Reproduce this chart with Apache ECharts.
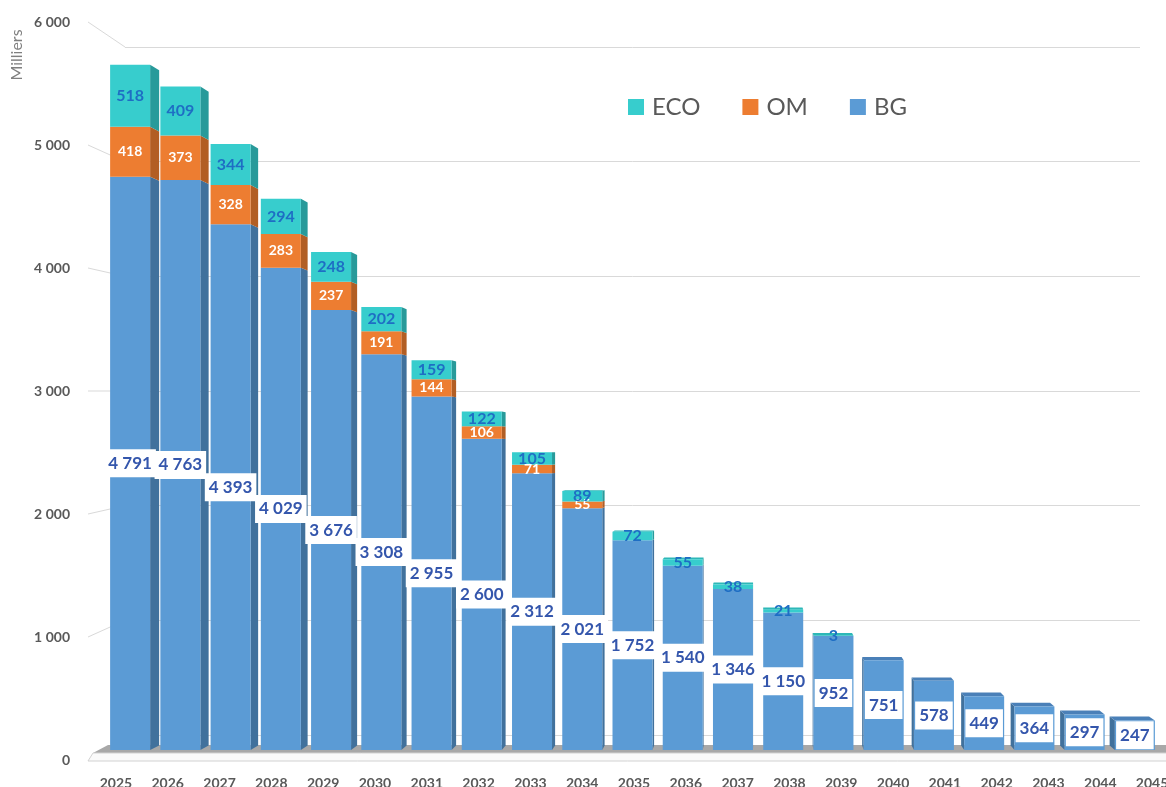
<!DOCTYPE html>
<html><head><meta charset="utf-8">
<script src="https://cdn.jsdelivr.net/npm/echarts@6/dist/echarts.min.js"></script>
<style>html,body{margin:0;padding:0;background:#fff}#c{width:1166px;height:787px}</style>
</head><body><div id="c"></div>
<script>
// ---- data ----
const years = ['2025','2026','2027','2028','2029','2030','2031','2032','2033','2034','2035','2036','2037','2038','2039','2040','2041','2042','2043','2044','2045'];
const bgValues  = [4791,4763,4393,4029,3676,3308,2955,2600,2312,2021,1752,1540,1346,1150,952,751,578,449,364,297,247];
const omValues  = [418,373,328,283,237,191,144,106,71,55,0,0,0,0,0,0,0,0,0,0,0];
const ecoValues = [518,409,344,294,248,202,159,122,105,89,72,55,38,21,3,0,0,0,0,0,0];
const yTicks = [0,1000,2000,3000,4000,5000,6000];
const seriesNames = ['BG','OM','ECO'];
const legendOrder = ['ECO','OM','BG'];
const axisTitle = 'Milliers';

// ---- style ----
const FONT = 'Lato, "Open Sans", sans-serif';
const frontCols = ['#5B9BD5','#ED7D31','#37CDCD'];
const sideCols  = ['#41719C','#B25E24','#289A9A'];
const topCols   = ['#4A80B8','#C96C2C','#2DB8B8'];
const BAR_W = 40;
const VP = [760, 450];   // perspective vanishing point
const DEPTH = 0.0148;    // depth factor
const fmt = n => String(n).replace(/\B(?=(\d{3})+(?!\d))/g, ' ');
const fmtNZ = p => p.value > 0 ? fmt(p.value) : '';

const chart = echarts.init(document.getElementById('c'), null, {renderer: 'canvas'});

function proj(x, y) { return [x + DEPTH * (VP[0] - x), y + DEPTH * (VP[1] - y)]; }

function render3D(params, api) {
  const i = api.value(0);
  const vals = [api.value(1), api.value(2), api.value(3)];
  const cx = api.coord([i, 0])[0];
  const xl = cx - BAR_W / 2, xr = cx + BAR_W / 2;
  let ex = null;
  if (xr < VP[0]) ex = xr; else if (xl > VP[0]) ex = xl;
  const children = [];
  let acc = 0, last = 0;
  for (let k = 0; k < 3; k++) {
    if (vals[k] <= 0) continue;
    const y1 = api.coord([i, acc])[1];
    acc += vals[k];
    const y2 = api.coord([i, acc])[1];
    last = k;
    if (ex !== null) {
      children.push({type: 'polygon', shape: {points: [[ex, y1], [ex, y2], proj(ex, y2), proj(ex, y1)]},
        style: {fill: sideCols[k]}});
    }
  }
  const ty = api.coord([i, acc])[1];
  if (ty > VP[1]) {
    children.push({type: 'polygon', shape: {points: [[xl, ty], [xr, ty], proj(xr, ty), proj(xl, ty)]},
      style: {fill: topCols[last]}});
  }
  return {type: 'group', children};
}

function renderFloor(params, api) {
  const cs = params.coordSys;
  const y0 = api.coord([0, 0])[1];
  const R = cs.x + cs.width + 10;
  return {type: 'group', children: [
    {type: 'polygon', shape: {points: [[cs.x - 12, y0 + 3], [R, y0 + 3], [R, y0 - 5], [cs.x + 3, y0 - 5]]},
      style: {fill: '#A8A8A8'}},
    {type: 'polygon', shape: {points: [[cs.x - 17, y0 + 11], [R, y0 + 11], [R, y0 + 3], [cs.x - 12, y0 + 3]]},
      style: {fill: '#FAFAFA', stroke: '#D2D2D2', lineWidth: 1}}
  ]};
}

const labelBase = {show: true, position: 'inside', fontFamily: FONT, fontWeight: 'bold'};

const option = {
  animation: false,
  backgroundColor: '#fff',
  textStyle: {fontFamily: FONT},
  legend: {
    data: legendOrder, left: 623, top: 90, icon: 'rect', itemWidth: 16, itemHeight: 16, itemGap: 42,
    textStyle: {fontSize: 24, color: '#595959', fontFamily: FONT, padding: [0, 0, 0, 3]},
    selectedMode: false
  },
  grid: [
    {left: 105, right: 6, top: 32, bottom: 37, outerBoundsMode: 'none', containLabel: false},
    {left: 125, right: 26, top: 47, bottom: 52, outerBoundsMode: 'none', containLabel: false},
    {left: 90, right: -12, top: 22, bottom: 27, outerBoundsMode: 'none', containLabel: false}
  ],
  xAxis: [
    {type: 'category', gridIndex: 0, data: years, show: false},
    {type: 'value', gridIndex: 1, min: 0, max: 1, show: false},
    {type: 'category', gridIndex: 2, data: years, axisLine: {show: false}, axisTick: {show: false},
      axisLabel: {fontSize: 14, fontWeight: 'bold', color: '#595959', margin: 16, fontFamily: FONT}}
  ],
  yAxis: [
    {type: 'value', gridIndex: 0, min: 0, max: 6000, show: false},
    {type: 'value', gridIndex: 1, min: 0, max: 6000, interval: 1000, axisLabel: {show: false},
      axisLine: {show: false}, axisTick: {show: false}, splitLine: {lineStyle: {color: '#D9D9D9', width: 1}}},
    {type: 'value', gridIndex: 2, min: 0, max: 6000, interval: 1000, axisLine: {show: false}, axisTick: {show: false},
      splitLine: {show: false},
      axisLabel: {fontSize: 14, fontWeight: 'bold', color: '#595959', margin: 20, fontFamily: FONT, formatter: v => fmt(v)}}
  ],
  series: [
    {type: 'custom', name: 'floor', xAxisIndex: 0, yAxisIndex: 0, data: [[0, 0]], renderItem: renderFloor, z: 0, silent: true},
    {type: 'custom', name: 'faces', xAxisIndex: 0, yAxisIndex: 0, z: 1, silent: true,
      data: years.map((y, i) => [i, bgValues[i], omValues[i], ecoValues[i]]), renderItem: render3D},
    {type: 'bar', name: seriesNames[0], xAxisIndex: 0, yAxisIndex: 0, stack: 'tot', barWidth: BAR_W, z: 2,
      data: bgValues, itemStyle: {color: frontCols[0]},
      label: Object.assign({}, labelBase, {formatter: fmtNZ, fontSize: 17, color: '#3456AC', backgroundColor: '#fff', padding: [6, 4, 5, 4]})},
    {type: 'bar', name: seriesNames[1], xAxisIndex: 0, yAxisIndex: 0, stack: 'tot', barWidth: BAR_W, z: 2,
      data: omValues, itemStyle: {color: frontCols[1]},
      label: Object.assign({}, labelBase, {formatter: fmtNZ, fontSize: 14, color: '#fff'})},
    {type: 'bar', name: seriesNames[2], xAxisIndex: 0, yAxisIndex: 0, stack: 'tot', barWidth: BAR_W, z: 2,
      data: ecoValues, itemStyle: {color: frontCols[2]},
      label: Object.assign({}, labelBase, {formatter: fmtNZ, fontSize: 16, color: '#1E6EC4'})}
  ]
};
chart.setOption(option);

// connectors from front tick labels to the back wall, plus axis title
const graphics = [{
  type: 'text', id: 'ytitle', x: 17, y: 55, rotation: Math.PI / 2,
  style: {text: axisTitle, fontSize: 16, fill: '#7F7F7F', fontFamily: FONT, align: 'center', verticalAlign: 'middle'}
}];
yTicks.forEach(v => {
  if (v === 0) return;
  const yl = chart.convertToPixel({yAxisIndex: 2}, v);
  const yw = chart.convertToPixel({yAxisIndex: 1}, v);
  graphics.push({type: 'line', id: 'conn' + v, z: -1, silent: true,
    shape: {x1: 88, y1: yl, x2: 125, y2: yw}, style: {stroke: '#D9D9D9', lineWidth: 1}});
});
chart.setOption({graphic: graphics});
</script>
</body></html>
